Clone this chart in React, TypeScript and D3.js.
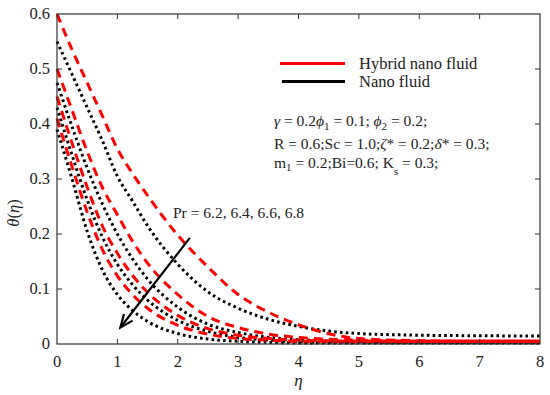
import React from 'react';
import * as d3 from 'd3';

// eta grid shared by all curves
const eta = [0, 0.25, 0.5, 0.75, 1, 1.25, 1.5, 2, 2.5, 3, 3.5, 4, 5, 6, 7, 8];

// hybrid nano fluid (red dashed), Pr = 6.2 .. 6.8
const hybrid1 = [0.6, 0.535, 0.475, 0.415, 0.355, 0.31, 0.27, 0.198, 0.14, 0.09, 0.058, 0.035, 0.01, 0.006, 0.005, 0.005];
const hybrid2 = [0.5, 0.425, 0.35, 0.285, 0.235, 0.187, 0.147, 0.09, 0.05, 0.03, 0.018, 0.012, 0.007, 0.005, 0.005, 0.005];
const hybrid3 = [0.45, 0.365, 0.285, 0.215, 0.165, 0.125, 0.094, 0.052, 0.028, 0.016, 0.01, 0.007, 0.005, 0.005, 0.005, 0.005];
const hybrid4 = [0.41, 0.322, 0.24, 0.172, 0.124, 0.09, 0.065, 0.034, 0.018, 0.01, 0.007, 0.005, 0.005, 0.005, 0.005, 0.005];

// nano fluid (black dotted)
const nano1 = [0.55, 0.49, 0.43, 0.37, 0.305, 0.26, 0.215, 0.145, 0.095, 0.065, 0.045, 0.032, 0.019, 0.016, 0.015, 0.0145];
const nano2 = [0.475, 0.395, 0.32, 0.255, 0.2, 0.155, 0.118, 0.067, 0.036, 0.021, 0.012, 0.008, 0.004, 0.003, 0.003, 0.003];
const nano3 = [0.43, 0.343, 0.262, 0.195, 0.145, 0.108, 0.08, 0.043, 0.023, 0.012, 0.007, 0.004, 0.003, 0.003, 0.003, 0.003];
const nano4 = [0.39, 0.3, 0.205, 0.135, 0.09, 0.061, 0.041, 0.019, 0.009, 0.005, 0.003, 0.002, 0.002, 0.002, 0.002, 0.002];

const hybridSeries = [hybrid1, hybrid2, hybrid3, hybrid4];
const nanoSeries = [nano1, nano2, nano3, nano4];

const xTicks = [0, 1, 2, 3, 4, 5, 6, 7, 8];
const yTicks = [0, 0.1, 0.2, 0.3, 0.4, 0.5, 0.6];

const W = 550;
const H = 395;
const font = '"Liberation Serif", "Times New Roman", serif';

export default function App() {
  const x = d3.scaleLinear().domain([0, 8]).range([57, 540]);
  const y = d3.scaleLinear().domain([0, 0.6]).range([344, 14]);

  const line = d3
    .line<number>()
    .x((_, i) => x(eta[i]))
    .y((d) => y(d))
    .curve(d3.curveMonotoneX);

  const [x0, x1] = x.range();
  const [yb, yt] = y.range();
  const tick = 5;

  // arrow from upper right down to lower left
  const ax1 = x(2.2), ay1 = y(0.193);
  const ax2 = x(1.05), ay2 = y(0.03);
  const ang = Math.atan2(ay2 - ay1, ax2 - ax1);
  const headLen = 14;
  const spread = 0.4;
  const h1 = [ax2 - headLen * Math.cos(ang - spread), ay2 - headLen * Math.sin(ang - spread)];
  const h2 = [ax2 - headLen * Math.cos(ang + spread), ay2 - headLen * Math.sin(ang + spread)];

  return (
    <div style={{ position: 'fixed', left: 0, top: 0 }}>
      <svg width={W} height={H} style={{ background: '#fff', display: 'block' }} fontFamily={font}>
        {/* curves */}
        <g fill="none">
          {nanoSeries.map((s, i) => (
            <path key={'n' + i} d={line(s) || ''} stroke="#000" strokeWidth={3} strokeDasharray="2.6,3.2" />
          ))}
          {hybridSeries.map((s, i) => (
            <path key={'h' + i} d={line(s) || ''} stroke="#ff0000" strokeWidth={3} strokeDasharray="9,6" />
          ))}
        </g>

        {/* axes box */}
        <rect x={x0} y={yt} width={x1 - x0} height={yb - yt} fill="none" stroke="#333" strokeWidth={1.2} />
        <g stroke="#333" strokeWidth={1}>
          {xTicks.slice(1, -1).map((t) => (
            <g key={'xt' + t}>
              <line x1={x(t)} x2={x(t)} y1={yb} y2={yb - tick} />
              <line x1={x(t)} x2={x(t)} y1={yt} y2={yt + tick} />
            </g>
          ))}
          {yTicks.slice(1, -1).map((t) => (
            <g key={'yt' + t}>
              <line x1={x0} x2={x0 + tick} y1={y(t)} y2={y(t)} />
              <line x1={x1} x2={x1 - tick} y1={y(t)} y2={y(t)} />
            </g>
          ))}
        </g>

        {/* tick labels */}
        <g fontSize={16.5} fill="#222">
          {xTicks.map((t) => (
            <text key={'xl' + t} x={x(t)} y={yb + 23} textAnchor="middle">{t}</text>
          ))}
          {yTicks.map((t) => (
            <text key={'yl' + t} x={x0 - 7} y={y(t) + 5} textAnchor="end">{t === 0 ? '0' : t.toFixed(1)}</text>
          ))}
        </g>

        {/* axis titles */}
        <text x={x(4)} y={386} fontSize={17} fontStyle="italic" textAnchor="middle" fill="#222">η</text>
        <text transform="translate(19,213) rotate(-90)" fontSize={16.5} textAnchor="middle" fill="#222">
          <tspan fontStyle="italic">θ</tspan>(<tspan fontStyle="italic">η</tspan>)
        </text>

        {/* legend */}
        <line x1={280} x2={345} y1={63.5} y2={63.5} stroke="#ff0000" strokeWidth={3} />
        <line x1={282} x2={345} y1={81.5} y2={81.5} stroke="#000" strokeWidth={3} />
        <text x={359} y={69} fontSize={16.5} fill="#222">Hybrid nano fluid</text>
        <text x={359} y={87} fontSize={16.5} fill="#222">Nano fluid</text>

        {/* parameter annotations */}
        <g fontSize={15.5} fill="#222">
          <text x={274} y={126}>
            <tspan fontStyle="italic">γ</tspan> = 0.2<tspan fontStyle="italic">ϕ</tspan>
            <tspan fontSize={11} dy={4}>1</tspan>
            <tspan dy={-4}> = 0.1; </tspan>
            <tspan fontStyle="italic">ϕ</tspan>
            <tspan fontSize={11} dy={4}>2</tspan>
            <tspan dy={-4}> = 0.2;</tspan>
          </text>
          <text x={274} y={149}>
            R = 0.6;Sc = 1.0;<tspan fontStyle="italic">ζ</tspan>* = 0.2;<tspan fontStyle="italic">δ</tspan>* = 0.3;
          </text>
          <text x={274} y={168}>
            m<tspan fontSize={11} dy={3}>1</tspan>
            <tspan dy={-3}> = 0.2;Bi=0.6; K</tspan>
            <tspan fontSize={11} dy={7}>s</tspan>
            <tspan dy={-7}> = 0.3;</tspan>
          </text>
          <text x={173} y={218}>Pr = 6.2, 6.4, 6.6, 6.8</text>
        </g>

        {/* arrow */}
        <line x1={ax1} y1={ay1} x2={ax2} y2={ay2} stroke="#000" strokeWidth={2.2} />
        <path
          d={`M${h1[0]},${h1[1]} L${ax2},${ay2} L${h2[0]},${h2[1]}`}
          fill="none"
          stroke="#000"
          strokeWidth={2.2}
        />
      </svg>
    </div>
  );
}
